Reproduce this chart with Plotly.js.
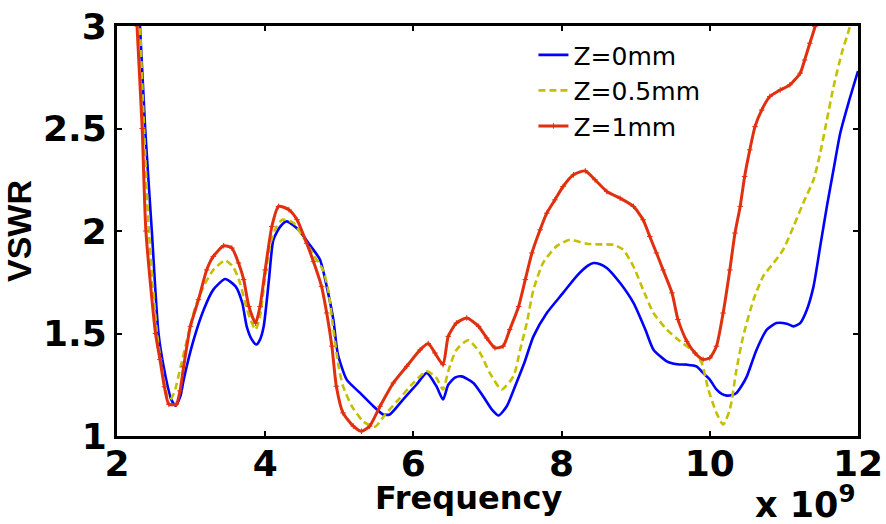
<!DOCTYPE html>
<html>
<head>
<meta charset="utf-8">
<script src="https://cdn.plot.ly/plotly-3.0.1.min.js"></script>
<style>html,body{margin:0;padding:0;background:#fff;}#chart{width:886px;height:524px;}</style>
</head>
<body>
<div id="chart"></div>
<script>
// Frequency in units of 1e9 Hz
const freq0 = [2.28,2.31,2.38,2.47,2.56,2.65,2.73,2.79,2.86,2.90,3.035,3.17,3.30,3.46,3.60,3.69,3.75,3.82,3.88,3.93,3.98,4.05,4.11,4.20,4.29,4.45,4.60,4.74,4.83,4.92,4.98,5.10,5.28,5.46,5.59,5.68,5.86,6.04,6.18,6.31,6.40,6.47,6.56,6.65,6.81,6.94,7.06,7.15,7.26,7.39,7.50,7.62,7.80,8.02,8.20,8.35,8.43,8.52,8.61,8.79,8.97,9.13,9.24,9.42,9.56,9.69,9.82,9.91,10.00,10.09,10.16,10.23,10.30,10.36,10.43,10.50,10.63,10.77,10.90,11.04,11.13,11.22,11.31,11.40,11.49,11.58,11.67,11.76,11.87,12.00];
const vswr0 = [3.15,3.00,2.50,2.00,1.50,1.30,1.18,1.148,1.20,1.275,1.47,1.616,1.714,1.766,1.73,1.65,1.535,1.47,1.446,1.47,1.535,1.76,1.957,2.02,2.047,2.006,1.933,1.86,1.73,1.567,1.40,1.275,1.21,1.145,1.105,1.105,1.178,1.25,1.308,1.243,1.178,1.25,1.285,1.291,1.259,1.194,1.129,1.10,1.145,1.259,1.36,1.486,1.60,1.698,1.779,1.83,1.844,1.838,1.82,1.746,1.649,1.519,1.421,1.364,1.350,1.348,1.34,1.308,1.275,1.227,1.205,1.197,1.20,1.21,1.245,1.291,1.42,1.519,1.551,1.548,1.535,1.551,1.616,1.73,1.925,2.12,2.30,2.477,2.623,2.78];

const freq05 = [2.29,2.31,2.365,2.43,2.54,2.62,2.68,2.72,2.78,2.86,2.945,3.06,3.17,3.30,3.46,3.57,3.66,3.73,3.80,3.87,3.93,4.00,4.07,4.15,4.23,4.38,4.56,4.65,4.78,4.85,4.92,4.99,5.05,5.17,5.32,5.48,5.62,5.82,6.00,6.18,6.31,6.40,6.47,6.58,6.74,6.90,7.03,7.19,7.35,7.44,7.53,7.62,7.75,7.93,8.11,8.34,8.50,8.70,8.83,8.97,9.10,9.24,9.42,9.60,9.78,9.89,9.98,10.09,10.18,10.27,10.36,10.45,10.59,10.72,10.86,10.99,11.13,11.26,11.40,11.49,11.58,11.67,11.78,11.89,11.95];
const vswr05 = [3.15,3.00,2.50,2.00,1.50,1.30,1.20,1.178,1.22,1.34,1.47,1.632,1.73,1.81,1.857,1.824,1.746,1.649,1.568,1.519,1.584,1.779,1.94,2.02,2.055,2.04,1.94,1.884,1.81,1.714,1.519,1.34,1.243,1.145,1.072,1.045,1.105,1.186,1.259,1.316,1.284,1.227,1.316,1.42,1.467,1.405,1.308,1.227,1.291,1.42,1.551,1.714,1.844,1.925,1.957,1.938,1.935,1.933,1.909,1.827,1.714,1.60,1.519,1.462,1.413,1.357,1.227,1.113,1.056,1.129,1.324,1.486,1.665,1.779,1.844,1.909,2.022,2.136,2.25,2.38,2.542,2.704,2.867,2.997,3.10];

const freq1 = [2.25,2.27,2.34,2.39,2.52,2.58,2.64,2.70,2.80,2.85,2.90,2.99,3.10,3.21,3.30,3.44,3.55,3.64,3.71,3.78,3.87,3.93,4.00,4.09,4.18,4.32,4.43,4.56,4.65,4.76,4.83,4.90,4.96,5.05,5.19,5.30,5.41,5.55,5.73,5.91,6.09,6.20,6.29,6.40,6.47,6.58,6.72,6.88,6.99,7.10,7.21,7.30,7.42,7.51,7.60,7.71,7.80,7.91,8.02,8.16,8.32,8.45,8.61,8.79,8.97,9.10,9.19,9.28,9.37,9.49,9.57,9.69,9.80,9.91,10.00,10.09,10.18,10.27,10.34,10.41,10.47,10.54,10.61,10.70,10.81,10.95,11.08,11.22,11.28,11.35,11.42,11.47];
const vswr1 = [3.15,3.00,2.50,2.00,1.50,1.373,1.24,1.155,1.155,1.22,1.34,1.535,1.665,1.81,1.876,1.928,1.917,1.844,1.763,1.632,1.551,1.632,1.81,2.022,2.12,2.104,2.055,1.94,1.852,1.73,1.60,1.438,1.243,1.113,1.048,1.023,1.048,1.145,1.259,1.34,1.42,1.451,1.405,1.348,1.486,1.551,1.576,1.535,1.478,1.43,1.438,1.519,1.632,1.763,1.893,2.006,2.087,2.152,2.217,2.274,2.293,2.25,2.193,2.16,2.12,2.055,1.973,1.893,1.81,1.698,1.568,1.462,1.405,1.373,1.381,1.438,1.60,1.81,1.99,2.12,2.266,2.396,2.509,2.59,2.656,2.688,2.713,2.77,2.834,2.916,2.997,3.10];

const seriesNames = ['Z=0mm','Z=0.5mm','Z=1mm'];
const xTicks = [2,4,6,8,10,12];
const yTicks = [1,1.5,2,2.5,3];

const tickFont = {family:'DejaVu Sans', size:36, color:'#000', weight:'bold'};

const traces = [
  {x:freq0, y:vswr0, name:seriesNames[0], mode:'lines', type:'scatter',
   line:{color:'#0000ff', width:2.6, shape:'spline', smoothing:0.6}},
  {x:freq05, y:vswr05, name:seriesNames[1], mode:'lines', type:'scatter',
   line:{color:'#c4c000', width:2.6, dash:'7px,4px', shape:'spline', smoothing:0.6}},
  {x:freq1, y:vswr1, name:seriesNames[2], mode:'lines+markers', type:'scatter',
   line:{color:'#e0300f', width:3, shape:'spline', smoothing:0.6},
   marker:{symbol:'cross-thin-open', size:4, line:{color:'#e0300f', width:1}, color:'#e0300f'}}
];

const axisCommon = {
  showgrid:false, zeroline:false, showline:true, linecolor:'#000', linewidth:3,
  mirror:'ticks', ticks:'inside', ticklen:5, tickwidth:2, tickcolor:'#000',
  tickfont:tickFont
};

const layout = {
  width:886, height:524,
  margin:{l:117, r:28, t:26, b:87.5, pad:0},
  paper_bgcolor:'#fff', plot_bgcolor:'#fff',
  showlegend:true,
  legend:{x:0.562, y:0.985, xanchor:'left', yanchor:'top', bgcolor:'rgba(0,0,0,0)',
          borderwidth:0, font:{family:'DejaVu Sans', size:25, color:'#000'}, tracegroupgap:0},
  xaxis:Object.assign({}, axisCommon, {range:[2,12], tickvals:xTicks, ticktext:xTicks.map(String), ticklabelstandoff:-6}),
  yaxis:Object.assign({}, axisCommon, {range:[1,3], tickvals:yTicks, ticktext:yTicks.map(String),
         title:{text:'VSWR', font:{family:'Liberation Sans', size:34, color:'#000', weight:'bold'}, standoff:7}}),
  annotations:[
    {text:'Frequency', xref:'paper', yref:'paper', x:(468-117)/741, y:(436.5-499)/410.5,
     xanchor:'center', yanchor:'middle', showarrow:false,
     font:{family:'DejaVu Sans', size:32, color:'#000', weight:'bold'}},
    {text:'x 10<sup>9</sup>', xref:'paper', yref:'paper', x:1.0, y:(436.5-503)/410.5,
     xanchor:'right', yanchor:'middle', showarrow:false,
     font:{family:'DejaVu Sans', size:35, color:'#000', weight:'bold'}}
  ]
};

Plotly.newPlot('chart', traces, layout, {displayModeBar:false, staticPlot:true});
</script>
</body>
</html>
